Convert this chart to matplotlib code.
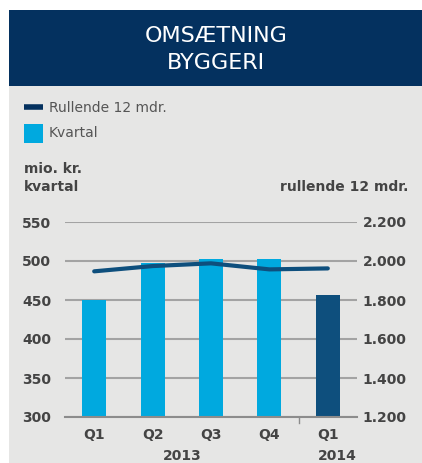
import matplotlib.pyplot as plt
from matplotlib.patches import Rectangle
from matplotlib.lines import Line2D

# ---------------------------------------------------------------------
# Data
# ---------------------------------------------------------------------
quarters = ["Q1", "Q2", "Q3", "Q4", "Q1"]
kvartal = [450, 498, 503, 503, 456]            # mio. kr. per quarter
rullende = [1947, 1974, 1988, 1957, 1962]      # rolling 12 months
left_ticks = [300, 350, 400, 450, 500, 550]
right_ticks = [1200, 1400, 1600, 1800, 2000, 2200]
right_labels = ["1.200", "1.400", "1.600", "1.800", "2.000", "2.200"]

NAVY = "#04315f"
LIGHT = "#00a9df"
DARK = "#0e4f7d"
BG = "#e6e6e5"
TXT = "#444444"
GRID = "#a3a3a3"

W, H = 422, 463
fig = plt.figure(figsize=(W / 100, H / 100), dpi=100)
fig.patch.set_facecolor("white")


def fx(px):
    return px / W


def fy(py):
    return 1 - py / H


# panel background + header
fig.patches.append(Rectangle((fx(9), 0), 1 - fx(9), fy(86), transform=fig.transFigure,
                             facecolor=BG, edgecolor="none", zorder=-10))
fig.patches.append(Rectangle((fx(9), fy(86)), 1 - fx(9), fy(10) - fy(86),
                             transform=fig.transFigure, facecolor=NAVY,
                             edgecolor="none", zorder=-10))
fig.text(fx(216), fy(36), "OMSÆTNING", color="white", fontsize=16,
         ha="center", va="center")
fig.text(fx(216), fy(63), "BYGGERI", color="white", fontsize=16,
         ha="center", va="center")

# legend
fig.lines.append(Line2D([fx(24), fx(43)], [fy(107), fy(107)], transform=fig.transFigure,
                        color=NAVY, linewidth=4, solid_capstyle="butt"))
fig.text(fx(49), fy(108), "Rullende 12 mdr.", color="#555555", fontsize=10, va="center")
fig.patches.append(Rectangle((fx(24), fy(143)), fx(19), fy(124) - fy(143),
                             transform=fig.transFigure, facecolor=LIGHT, edgecolor="none"))
fig.text(fx(49), fy(133), "Kvartal", color="#555555", fontsize=10, va="center")

# axis titles
fig.text(fx(24), fy(169), "mio. kr.", color=TXT, fontsize=10, fontweight="bold",
         va="center")
fig.text(fx(24), fy(187), "kvartal", color=TXT, fontsize=10, fontweight="bold",
         va="center")
fig.text(fx(408), fy(187), "rullende 12 mdr.", color=TXT, fontsize=10, fontweight="bold",
         ha="right", va="center")

# ---------------------------------------------------------------------
# Chart
# ---------------------------------------------------------------------
ax = fig.add_axes([fx(65), fy(417), fx(357) - fx(65), fy(222) - fy(417)])
ax.set_facecolor("none")
x = list(range(len(quarters)))
colors = [LIGHT] * 4 + [DARK]
ax.bar(x, kvartal, width=0.41, color=colors, zorder=2)
ax.set_xlim(-0.5, 4.5)
ax.set_ylim(300, 550)
ax.set_yticks(left_ticks)
ax.yaxis.grid(True, color=GRID, linewidth=1.5, zorder=1)
ax.set_axisbelow(True)
for s in ["top", "right", "left"]:
    ax.spines[s].set_visible(False)
ax.spines["bottom"].set_color("#8c8c8c")
ax.spines["bottom"].set_linewidth(1.5)
ax.set_xticks(x)
ax.set_xticklabels(quarters)
ax.tick_params(axis="x", length=0, pad=8, labelsize=10, labelcolor=TXT)
ax.tick_params(axis="y", length=0, pad=31, labelsize=10, labelcolor=TXT)
for lbl in ax.get_xticklabels():
    lbl.set_fontweight("bold")
for lbl in ax.get_yticklabels():
    lbl.set_fontweight("bold")
    lbl.set_horizontalalignment("left")

# year separator and year labels
ax.plot([3.5, 3.5], [300, 292], color="#8c8c8c", linewidth=1, clip_on=False)
ax.text(1.5, -0.2, "2013", transform=ax.get_xaxis_transform(), ha="center", va="center",
        fontsize=10, fontweight="bold", color=TXT)
ax.text(4.5, -0.2, "2014", transform=ax.get_xaxis_transform(), ha="right", va="center",
        fontsize=10, fontweight="bold", color=TXT)

ax2 = ax.twinx()
ax2.plot(x, rullende, color=DARK, linewidth=3, solid_capstyle="round", zorder=3)
ax2.set_ylim(1200, 2200)
ax2.set_yticks(right_ticks)
ax2.set_yticklabels(right_labels)
for s in ax2.spines.values():
    s.set_visible(False)
ax2.tick_params(axis="y", length=0, pad=4, labelsize=10, labelcolor=TXT)
for lbl in ax2.get_yticklabels():
    lbl.set_fontweight("bold")

fig.savefig("out.png", dpi=100, facecolor=fig.get_facecolor())
